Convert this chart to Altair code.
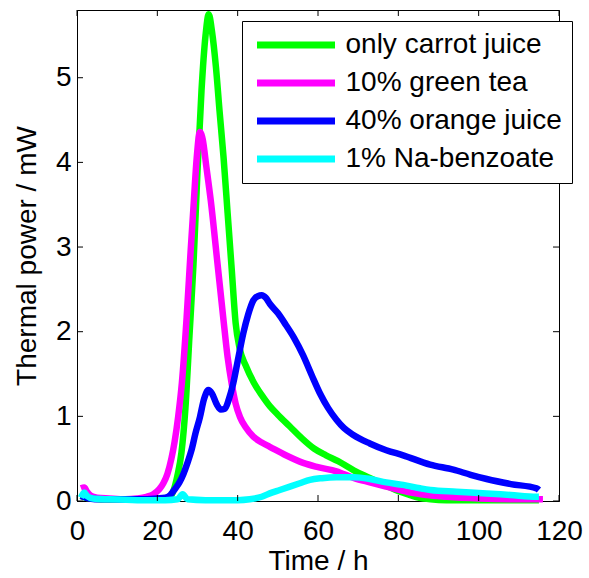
import altair as alt
import pandas as pd

series = ["only carrot juice", "10% green tea", "40% orange juice", "1% Na-benzoate"]
colors = ["#00ff00", "#ff00ff", "#0000ff", "#00ffff"]

carrot_t = [1.0, 2.0, 4, 7, 10, 14, 18, 20.5, 22, 23, 24, 25, 26, 27, 28, 29, 30, 31, 32, 32.8,
            33.6, 34.6, 35.5, 36.5, 37.5, 38.5, 39.5, 40.5, 42, 44, 46, 48, 50, 53, 56, 59, 62,
            65, 69, 73, 77, 81, 85, 88, 92, 100, 108, 115]
carrot_p = [0.06, 0.04, 0.03, 0.02, 0.02, 0.02, 0.02, 0.03, 0.03, 0.04, 0.12, 0.3, 0.57, 1.1,
            1.95, 2.8, 3.9, 4.85, 5.5, 5.75, 5.55, 5.12, 4.6, 4.05, 3.4, 2.75, 2.1, 1.8, 1.6,
            1.4, 1.25, 1.12, 1.02, 0.88, 0.74, 0.62, 0.54, 0.47, 0.36, 0.27, 0.18, 0.1, 0.04,
            0.02, 0.01, 0.01, 0.01, 0.01]

tea_t = [1.0, 1.8, 2.5, 3.5, 5, 8, 12, 15, 17.3, 19, 20.5, 21.5, 22.5, 23.5, 24.3, 25.2, 26.1,
         27.3, 28.3, 29.1, 29.8, 30.6, 31.3, 32.2, 33.3, 34.9, 36.4, 37.5, 38.5, 39.5, 40.6, 42,
         43.9, 46, 48, 52, 56.3, 60, 64.6, 69, 72.9, 77, 81.2, 87, 92, 100, 110, 116]
tea_p = [0.15, 0.16, 0.11, 0.06, 0.04, 0.03, 0.02, 0.03, 0.05, 0.08, 0.14, 0.21, 0.32, 0.5, 0.7,
         1.0, 1.39, 2.17, 2.96, 3.55, 4.05, 4.36, 4.27, 3.95, 3.55, 2.84, 2.17, 1.7, 1.39, 1.15,
         0.99, 0.87, 0.76, 0.69, 0.64, 0.54, 0.45, 0.4, 0.35, 0.27, 0.22, 0.17, 0.12, 0.07, 0.05,
         0.03, 0.02, 0.02]

orange_t = [1.0, 3, 6, 10, 15, 20, 22, 23.2, 24.5, 25.5, 26.5, 27.5, 28.5, 29.5, 30.6, 31.6, 32.7,
            33.6, 34.8, 35.8, 36.8, 37.8, 38.9, 40.2, 41.4, 42.6, 43.9, 45, 46, 47, 48, 50, 52, 54,
            56.3, 58.5, 60.5, 62.5, 64.6, 66.5, 68.8, 72.9, 77, 81.2, 87.9, 93.7, 98, 102, 108,
            114.4, 115]
orange_p = [0.06, 0.03, 0.02, 0.02, 0.02, 0.03, 0.04, 0.07, 0.15, 0.22, 0.32, 0.45, 0.6, 0.8, 0.99,
            1.2, 1.31, 1.27, 1.14, 1.08, 1.09, 1.2, 1.39, 1.7, 1.98, 2.2, 2.37, 2.42, 2.43, 2.4,
            2.33, 2.22, 2.08, 1.93, 1.72, 1.48, 1.27, 1.1, 0.96, 0.86, 0.78, 0.68, 0.6, 0.54, 0.43,
            0.37, 0.31, 0.26, 0.2, 0.15, 0.13]

benzoate_t = [1.0, 1.8, 2.5, 4, 8, 15, 22, 25, 26.3, 27.5, 32, 40, 43, 46, 48, 50.5, 53, 55.5, 58,
              61, 64.6, 69, 72.9, 77, 81.2, 85.4, 88, 94.5, 102, 108, 114.4, 115]
benzoate_p = [0.04, 0.1, 0.06, 0.03, 0.02, 0.01, 0.01, 0.02, 0.08, 0.02, 0.01, 0.01, 0.02, 0.05,
              0.09, 0.13, 0.17, 0.21, 0.25, 0.27, 0.28, 0.28, 0.26, 0.22, 0.19, 0.15, 0.13, 0.11,
              0.09, 0.07, 0.05, 0.05]

x_ticks = [0, 20, 40, 60, 80, 100, 120]
y_ticks = [0, 1, 2, 3, 4, 5]

rows = []
for name, ts, ps in zip(series, [carrot_t, tea_t, orange_t, benzoate_t],
                        [carrot_p, tea_p, orange_p, benzoate_p]):
    for t, p in zip(ts, ps):
        rows.append({"series": name, "t": t, "p": p})
df = pd.DataFrame(rows)

W, H = 482, 491
FONT = "Liberation Sans"
xs = alt.Scale(domain=[0, 120], nice=False, zero=False)
ys = alt.Scale(domain=[0, 5.8], nice=False)
x_axis = alt.Axis(values=x_ticks, title="Time / h", ticks=False, grid=False, labelFlush=False,
                  labelPadding=16, titlePadding=2, format="d")
y_axis = alt.Axis(values=y_ticks, title="Thermal power / mW", ticks=False, grid=False,
                  labelFlush=False, labelPadding=6, titlePadding=14, format="d")

lines = alt.Chart(df).mark_line(strokeWidth=6.5, strokeJoin="round", interpolate="monotone").encode(
    x=alt.X("t:Q", scale=xs, axis=x_axis),
    y=alt.Y("p:Q", scale=ys, axis=y_axis),
    color=alt.Color("series:N", scale=alt.Scale(domain=series, range=colors),
                    legend=alt.Legend(title=None, orient="none", legendX=165, legendY=11,
                                      symbolType="stroke", symbolSize=6084, symbolStrokeWidth=7,
                                      labelFontSize=28, labelFont=FONT, labelColor="black",
                                      strokeColor="black", fillColor="white", padding=10,
                                      rowPadding=10, clipHeight=28, labelOffset=7,
                                      symbolOffset=1.5, labelLimit=0)),
    detail="series:N",
)

xt = pd.DataFrame({"v": x_ticks})
yt = pd.DataFrame({"v": y_ticks})
tick_len = 6
bottom_ticks = alt.Chart(xt).mark_rule(color="black", strokeWidth=1).encode(
    x=alt.X("v:Q", scale=xs, axis=x_axis), y=alt.value(H), y2=alt.value(H - tick_len))
top_ticks = alt.Chart(xt).mark_rule(color="black", strokeWidth=1).encode(
    x=alt.X("v:Q", scale=xs, axis=x_axis), y=alt.value(0), y2=alt.value(tick_len))
left_ticks = alt.Chart(yt).mark_rule(color="black", strokeWidth=1).encode(
    y=alt.Y("v:Q", scale=ys, axis=y_axis), x=alt.value(0), x2=alt.value(tick_len))
right_ticks = alt.Chart(yt).mark_rule(color="black", strokeWidth=1).encode(
    y=alt.Y("v:Q", scale=ys, axis=y_axis), x=alt.value(W), x2=alt.value(W - tick_len))

chart = alt.layer(lines, bottom_ticks, top_ticks, left_ticks, right_ticks).properties(
    width=W, height=H,
    padding={"left": 77, "top": 10, "right": 30, "bottom": 77},
    autosize=alt.AutoSizeParams(type="none"),
    background="white",
).configure_view(stroke="black", strokeWidth=1).configure_axis(
    labelFont=FONT, titleFont=FONT, labelFontSize=28, titleFontSize=28,
    labelColor="black", titleColor="black", titleFontWeight="normal",
    domainColor="black", domainWidth=1,
)

chart.save("out.html", embed_options={"renderer": "svg", "actions": False})
